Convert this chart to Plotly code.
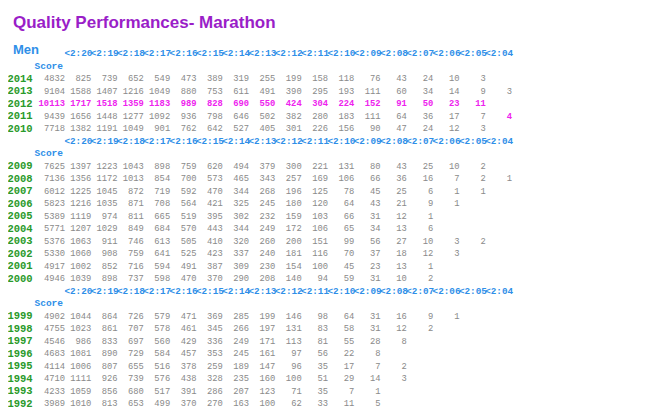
import plotly.graph_objects as go

headers = ["<2:20", "<2:19", "<2:18", "<2:17", "<2:16", "<2:15", "<2:14", "<2:13", "<2:12",
           "<2:11", "<2:10", "<2:09", "<2:08", "<2:07", "<2:06", "<2:05", "<2:04"]

block1_years = [2014, 2013, 2012, 2011, 2010]
block1_rows = [
    [4832, 825, 739, 652, 549, 473, 389, 319, 255, 199, 158, 118, 76, 43, 24, 10, 3],
    [9104, 1588, 1407, 1216, 1049, 880, 753, 611, 491, 390, 295, 193, 111, 60, 34, 14, 9, 3],
    [10113, 1717, 1518, 1359, 1183, 989, 828, 690, 550, 424, 304, 224, 152, 91, 50, 23, 11],
    [9439, 1656, 1448, 1277, 1092, 936, 798, 646, 502, 382, 280, 183, 111, 64, 36, 17, 7, 4],
    [7718, 1382, 1191, 1049, 901, 762, 642, 527, 405, 301, 226, 156, 90, 47, 24, 12, 3],
]
block2_years = [2009, 2008, 2007, 2006, 2005, 2004, 2003, 2002, 2001, 2000]
block2_rows = [
    [7625, 1397, 1223, 1043, 898, 759, 620, 494, 379, 300, 221, 131, 80, 43, 25, 10, 2],
    [7136, 1356, 1172, 1013, 854, 700, 573, 465, 343, 257, 169, 106, 66, 36, 16, 7, 2, 1],
    [6012, 1225, 1045, 872, 719, 592, 470, 344, 268, 196, 125, 78, 45, 25, 6, 1, 1],
    [5823, 1216, 1035, 871, 708, 564, 421, 325, 245, 180, 120, 64, 43, 21, 9, 1],
    [5389, 1119, 974, 811, 665, 519, 395, 302, 232, 159, 103, 66, 31, 12, 1],
    [5771, 1207, 1029, 849, 684, 570, 443, 344, 249, 172, 106, 65, 34, 13, 6],
    [5376, 1063, 911, 746, 613, 505, 410, 320, 260, 200, 151, 99, 56, 27, 10, 3, 2],
    [5330, 1060, 908, 759, 641, 525, 423, 337, 240, 181, 116, 70, 37, 18, 12, 3],
    [4917, 1002, 852, 716, 594, 491, 387, 309, 230, 154, 100, 45, 23, 13, 1],
    [4946, 1039, 898, 737, 598, 470, 370, 290, 208, 140, 94, 59, 31, 10, 2],
]
block3_years = [1999, 1998, 1997, 1996, 1995, 1994, 1993, 1992]
block3_rows = [
    [4902, 1044, 864, 726, 579, 471, 369, 285, 199, 146, 98, 64, 31, 16, 9, 1],
    [4755, 1023, 861, 707, 578, 461, 345, 266, 197, 131, 83, 58, 31, 12, 2],
    [4546, 986, 833, 697, 560, 429, 336, 249, 171, 113, 81, 55, 28, 8],
    [4683, 1081, 890, 729, 584, 457, 353, 245, 161, 97, 56, 22, 8],
    [4114, 1006, 807, 655, 516, 378, 259, 189, 147, 96, 35, 17, 7, 2],
    [4710, 1111, 926, 739, 576, 438, 328, 235, 160, 100, 51, 29, 14, 3],
    [4233, 1059, 856, 680, 517, 391, 286, 207, 123, 71, 35, 7, 1],
    [3989, 1010, 813, 653, 499, 370, 270, 163, 100, 62, 33, 11, 5],
]
# best marks per column (shown in magenta)
best_year = 2012
best_extra = (2011, 17)

GRAY, GREEN, BLUE, MAGENTA, PURPLE = "#8a8a8a", "#2a9a2a", "#2f8fe8", "#ee22ee", "#9a1ec8"
MONO = "Liberation Mono, DejaVu Sans Mono, monospace"

def col_x(i, base=57):
    # right edge of column i (0 = Score)
    return base + 26.3 * i

line_h = 12.5
fig = go.Figure()

hx, hy, lx, ly = [], [], [], []
yx, yy, yt = [], [], []
gx, gy, gt, mx, my, mt = [], [], [], [], [], []

y = 54
for years, rows in [(block1_years, block1_rows), (block2_years, block2_rows), (block3_years, block3_rows)]:
    for i, h in enumerate(headers):
        hx.append(col_x(i + 1, 58)); hy.append(y)
    y += line_h
    lx.append(col_x(0, 55)); ly.append(y)
    y += line_h
    for yr, row in zip(years, rows):
        yx.append(12); yy.append(y); yt.append(str(yr))
        for i, v in enumerate(row):
            magenta = yr == best_year or (yr == best_extra[0] and i == best_extra[1])
            if magenta:
                mx.append(col_x(i)); my.append(y); mt.append(str(v))
            else:
                gx.append(col_x(i)); gy.append(y); gt.append(str(v))
        y += line_h

fig.add_trace(go.Scatter(x=hx, y=hy, mode="text", text=headers * 3, textposition="middle left",
                         textfont=dict(family=MONO, size=9.3, color=BLUE, weight="bold")))
fig.add_trace(go.Scatter(x=lx, y=ly, mode="text", text=["Score"] * 3, textposition="middle left",
                         textfont=dict(family=MONO, size=9.5, color=BLUE, weight="bold")))
fig.add_trace(go.Scatter(x=yx, y=yy, mode="text", text=yt, textposition="middle center",
                         textfont=dict(family=MONO, size=10.5, color=GREEN, weight="bold")))
fig.add_trace(go.Scatter(x=gx, y=gy, mode="text", text=gt, textposition="middle left",
                         textfont=dict(family=MONO, size=8.8, color=GRAY)))
fig.add_trace(go.Scatter(x=mx, y=my, mode="text", text=mt, textposition="middle left",
                         textfont=dict(family=MONO, size=8.8, color=MAGENTA, weight="bold")))

fig.update_layout(
    width=660, height=413, showlegend=False,
    margin=dict(l=0, r=0, t=0, b=0),
    plot_bgcolor="white", paper_bgcolor="white",
    xaxis=dict(range=[0, 660], visible=False, fixedrange=True),
    yaxis=dict(range=[421, 8], visible=False, fixedrange=True),
    annotations=[
        dict(x=3 / 660, y=1 - 14 / 413, xref="paper", yref="paper", text="<b>Quality Performances- Marathon</b>",
             showarrow=False, xanchor="left", yanchor="middle",
             font=dict(family="Arial, Liberation Sans", size=17, color=PURPLE)),
        dict(x=3 / 660, y=1 - 41 / 413, xref="paper", yref="paper", text="<b>Men</b>",
             showarrow=False, xanchor="left", yanchor="middle",
             font=dict(family="Arial, Liberation Sans", size=13, color=BLUE)),
    ],
)
fig.write_html("out.html")
